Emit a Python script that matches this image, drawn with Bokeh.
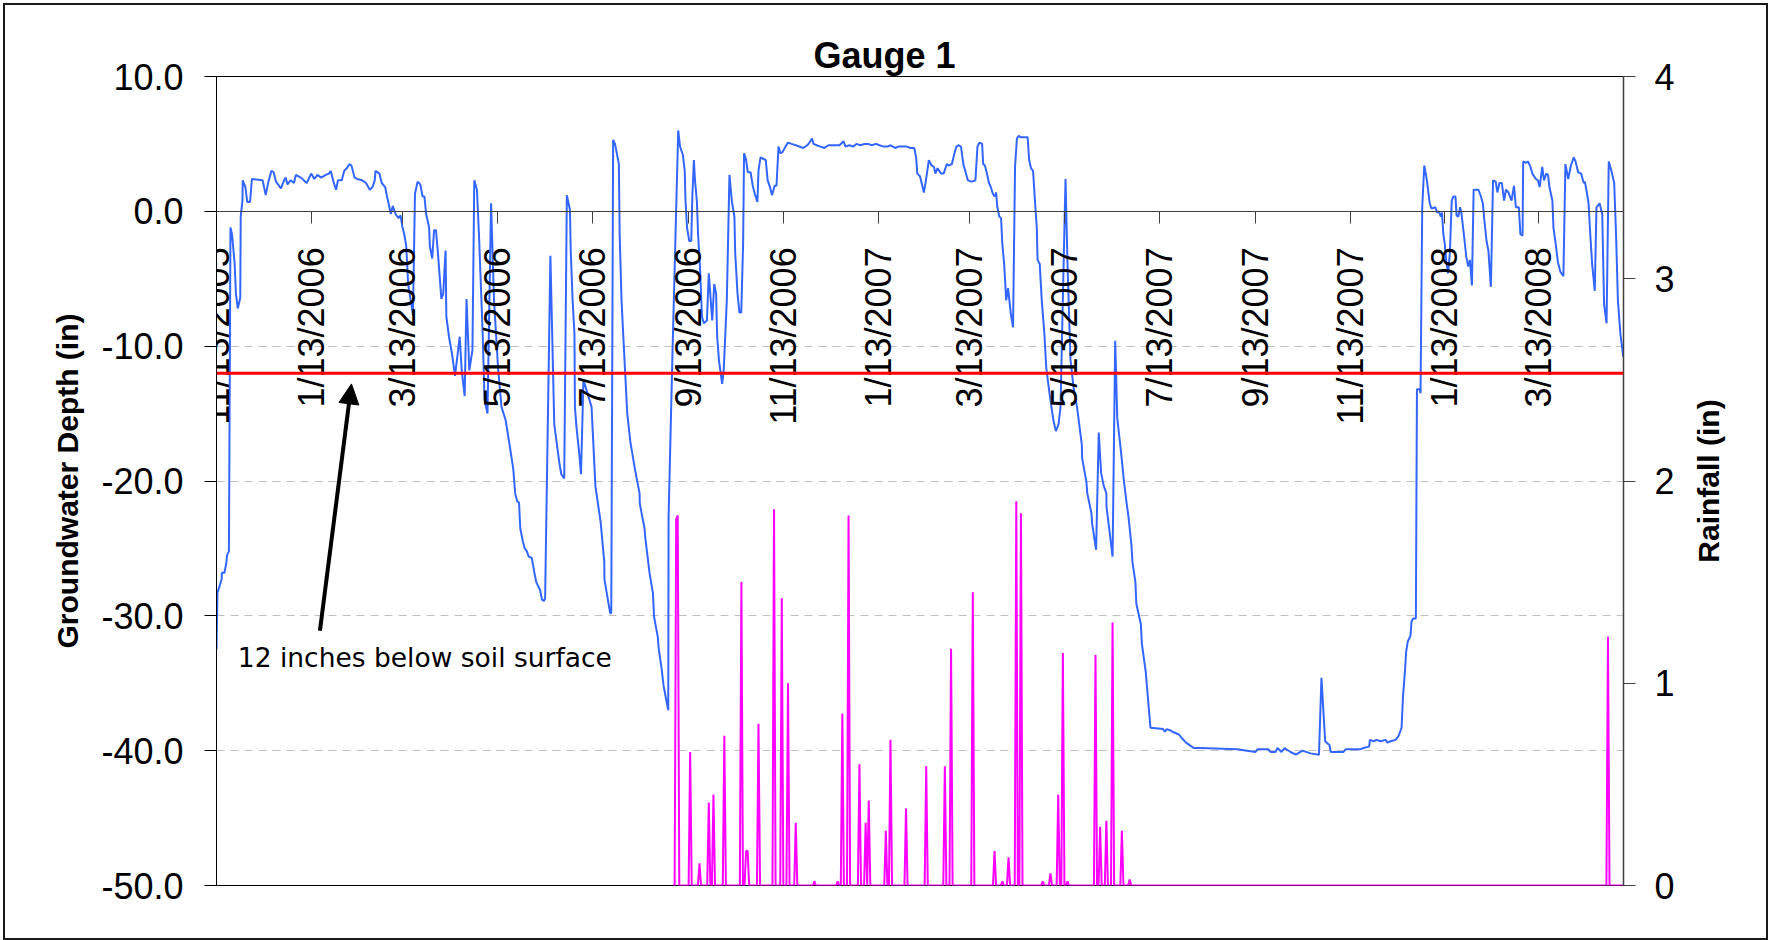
import math
from datetime import datetime, timedelta

from bokeh.plotting import figure
from bokeh.layouts import row
from bokeh.models import (Range1d, LinearAxis, FixedTicker, PrintfTickFormatter, Span,
                          ColumnDataSource, Label, Arrow, NormalHead)
from bokeh.embed import file_html
from bokeh.resources import INLINE

# ---------------- data ----------------
START = datetime(2005, 11, 13)          # first day on the time axis
END_DAY = 906                           # last day shown (days after START)

tick_labels = ["11/13/2005", "1/13/2006", "3/13/2006", "5/13/2006", "7/13/2006",
               "9/13/2006", "11/13/2006", "1/13/2007", "3/13/2007", "5/13/2007",
               "7/13/2007", "9/13/2007", "11/13/2007", "1/13/2008", "3/13/2008"]

# groundwater depth (in) : day after START, value
gw_day = [0, 0.6, 3.3, 3.5, 5.1, 6.3, 6.8, 8.0, 9.0, 10.0, 11.7, 12.5, 13.7, 15.3, 15.6, 16.7, 16.9,
          18.6, 19.8, 21.6, 22.8, 29.7, 31.7, 33.4, 35.4, 36.8, 38.3, 41.5, 43.5, 44.5, 45.7, 47.7,
          49.9, 51.1, 54.3, 58.1, 61.0, 63.0, 65.0, 67.4, 70.4, 72.4, 73.6, 75.3, 77.0, 78.2, 80.7,
          82.2, 83.9, 85.6, 86.9, 88.9, 90.6, 93.8, 96.3, 98.7, 100.5, 101.9, 102.4, 104.9, 106.4,
          108.6, 109.8, 112.3, 113.5, 115.3, 117.2, 118.5, 119.6, 120.9, 122.2, 123.4, 125.6, 126.5,
          127.8, 129.5, 131.2, 132.7, 133.9, 135.0, 136.9, 137.4, 138.9, 140.1, 141.3, 142.6, 144.8,
          146.0, 147.5, 148.0, 149.7, 151.7, 153.6, 156.6, 157.9, 159.8, 161.0, 162.8, 164.8, 166.0,
          167.7, 169.0, 170.2, 171.4, 172.6, 174.5, 176.8, 178.7, 181.3, 183.5, 186.2, 188.7, 191.1,
          192.3, 193.6, 194.8, 195.6, 197.3, 198.5, 199.8, 201.0, 203.0, 204.7, 205.9, 208.4, 209.6,
          210.8, 211.6, 215.0, 217.5, 220.7, 222.0, 223.9, 225.6, 227.6, 228.1, 229.3, 230.5, 230.8,
          231.8, 233.7, 234.7, 236.3, 241.5, 244.0, 247.3, 249.7, 249.8, 253.5, 254.2, 255.4, 256.6,
          259.1, 259.6, 260.8, 262.1, 264.5, 266.5, 269.4, 272.4, 272.6, 275.6, 276.1, 278.0, 278.8,
          281.0, 281.8, 284.2, 284.7, 286.6, 287.9, 290.9, 291.1, 293.6, 297.3, 298.5, 300.3, 301.5,
          302.0, 303.0, 304.4, 305.7, 306.4, 307.4, 308.1, 309.3, 310.1, 311.3, 312.6, 313.8, 315.8,
          317.0, 319.2, 320.5, 321.7, 322.4, 323.6, 325.6, 326.6, 328.6, 330.3, 331.8, 333.5, 334.0,
          335.5, 336.7, 337.9, 339.1, 339.7, 340.9, 342.1, 343.9, 345.3, 346.6, 348.3, 349.0, 350.3,
          352.0, 353.7, 354.9, 356.4, 357.7, 359.4, 360.6, 361.9, 363.1, 364.5, 366.4, 368.0, 370.3,
          373.0, 377.9, 380.4, 381.8, 383.5, 384.4, 386.5, 388.9, 391.4, 394.1, 396.3, 399.2, 401.2,
          403.7, 405.0, 407.6, 409.9, 412.1, 414.7, 417.3, 419.8, 421.8, 424.7, 426.9, 429.6, 432.1,
          434.0, 437.0, 439.2, 441.7, 444.4, 446.9, 449.3, 450.5, 451.3, 453.0, 455.5, 456.7, 458.7,
          460.4, 462.0, 462.9, 464.3, 466.6, 468.2, 470.3, 471.4, 473.5, 475.2, 476.4, 477.7, 479.4,
          480.9, 482.6, 483.8, 486.3, 488.7, 490.0, 491.2, 493.0, 493.7, 494.8, 496.1, 497.4, 498.6,
          499.9, 501.1, 502.0, 502.8, 504.1, 505.2, 506.0, 507.2, 508.5, 509.7, 511.5, 512.9, 514.2,
          515.4, 516.6, 517.7, 519.0, 522.3, 523.3, 524.5, 525.8, 527.0, 528.2, 528.7, 530.1, 531.4,
          533.1, 534.3, 535.6, 537.0, 538.9, 540.5, 542.2, 543.5, 544.7, 546.7, 548.0, 549.9, 551.8,
          554.1, 557.2, 557.4, 560.2, 560.7, 563.4, 563.9, 566.4, 568.1, 569.6, 571.4, 573.0, 573.1,
          575.0, 577.0, 578.7, 580.0, 582.4, 584.4, 586.1, 587.3, 589.1, 589.8, 591.7, 592.3, 595.2,
          595.9, 598.4, 599.7, 601.4, 609.5, 610.7, 611.9, 614.4, 615.5, 619.8, 621.8, 624.3, 628.0,
          629.2, 633.6, 657.2, 669.0, 670.3, 677.4, 678.7, 681.9, 683.2, 685.8, 687.7, 691.6, 695.0,
          699.3, 704.5, 709.9, 711.5, 713.9, 716.7, 717.5, 725.7, 727.0, 736.3, 738.6, 742.2, 742.7,
          745.0, 747.0, 749.5, 752.8, 754.0, 756.0, 759.2, 761.2, 763.1, 764.0, 765.4, 766.0, 767.1,
          768.8, 769.5, 770.6, 772.3, 773.0, 774.7, 775.3, 776.4, 777.7, 779.4, 781.2, 782.4, 784.8,
          786.0, 787.2, 788.4, 789.1, 790.0, 790.9, 791.8, 793.0, 794.2, 795.4, 796.5, 797.8, 798.5,
          799.6, 800.8, 801.7, 803.2, 804.8, 806.0, 807.1, 808.4, 809.5, 812.6, 814.2, 815.4, 816.6,
          817.8, 819.0, 820.6, 822.0, 823.7, 824.8, 826.1, 827.7, 829.1, 830.3, 831.9, 833.9, 835.5,
          836.7, 838.6, 839.6, 841.0, 841.4, 843.3, 844.5, 846.1, 847.3, 849.6, 850.9, 852.0, 853.7,
          854.8, 856.3, 857.4, 858.3, 860.2, 860.9, 862.1, 863.8, 865.4, 867.3, 868.6, 870.4, 872.1,
          874.0, 875.1, 876.8, 878.7, 880.4, 881.1, 882.1, 883.5, 884.6, 885.8, 887.5, 888.6, 890.6,
          892.3, 893.5, 895.1, 896.5, 898.2, 900.0, 901.2, 902.4, 904.0, 905.9]
gw_in = [-32.5, -28.3, -27.3, -26.8, -26.8, -26.1, -25.5, -25.2, -1.2, -1.7, -3.9, -6.1, -7.2, -6.4,
         -0.4, 0.8, 2.3, 1.8, 0.7, 0.7, 2.4, 2.3, 1.2, 2.2, 3.0, 2.9, 2.2, 1.7, 2.3, 2.5, 2.0, 2.3,
         2.1, 2.7, 2.5, 2.1, 2.8, 2.4, 2.7, 2.5, 2.7, 2.8, 3.0, 2.2, 1.6, 2.3, 2.3, 3.0, 3.2, 3.5,
         3.4, 2.5, 2.4, 2.3, 2.1, 1.6, 1.8, 2.3, 3.0, 2.8, 2.1, 1.8, 1.1, -0.2, 0.4, -0.2, -0.5,
         -0.3, -1.1, -1.7, -2.6, -5.4, -7.0, -7.7, 1.3, 2.2, 2.0, 1.1, 1.1, -0.2, -1.2, -2.6, -3.5,
         -1.4, -1.4, -3.1, -6.5, -6.1, -2.9, -7.8, -9.3, -10.6, -12.2, -9.3, -11.8, -13.7, -6.5,
         -11.8, -10.3, 2.3, 1.6, -1.7, -5.4, -9.1, -14.0, -15.0, 0.6, -6.6, -11.6, -14.5, -15.5,
         -17.3, -19.1, -20.9, -21.5, -21.6, -23.5, -24.5, -25.0, -25.2, -25.6, -25.7, -26.8, -27.5,
         -28.1, -28.8, -28.9, -28.7, -3.3, -15.8, -18.6, -19.5, -19.8, 1.2, 0.1, -2.9, -6.6, -9.1,
         -14.5, -16.0, -18.1, -19.5, -12.5, -14.5, -20.4, -23.0, -26.0, -27.3, -29.8, -29.8, 5.3,
         5.0, 3.5, -1.7, -6.6, -9.6, -15.0, -17.1, -19.1, -20.9, -21.7, -23.5, -24.2, -26.0, -26.8,
         -28.3, -30.1, -31.6, -32.4, -33.9, -35.2, -37.0, -22.7, -10.6, 6.0, 4.8, 4.2, 3.0, 0.8,
         -1.2, -2.2, -2.2, 1.1, 3.8, 2.3, 0.8, -1.7, -4.1, -7.8, -8.3, -8.1, -4.6, -8.1, -5.4, -6.1,
         -9.3, -11.1, -12.8, -11.8, -6.6, 2.7, 0.8, -0.4, -3.1, -6.1, -7.5, -7.5, -2.4, 4.3, 3.9,
         2.9, 2.9, 1.9, 1.3, 0.7, 3.0, 4.0, 3.9, 3.8, 2.3, 1.8, 1.2, 1.9, 1.9, 4.8, 4.3, 4.4, 4.8,
         5.1, 5.0, 4.9, 4.7, 4.9, 5.1, 5.4, 5.0, 4.9, 4.8, 4.7, 4.9, 4.9, 4.9, 4.9, 5.2, 4.8, 4.9,
         4.8, 5.0, 4.9, 5.0, 5.0, 4.9, 5.0, 4.9, 4.8, 4.8, 4.9, 4.7, 4.8, 4.8, 4.8, 4.7, 4.7, 4.0,
         2.8, 2.6, 1.4, 2.2, 3.8, 3.4, 3.3, 2.8, 3.2, 2.8, 2.8, 3.5, 3.4, 3.5, 4.3, 4.8, 4.9, 4.8,
         3.5, 2.8, 2.3, 2.2, 2.3, 4.8, 5.1, 5.0, 3.5, 3.4, 2.8, 2.1, 1.8, 1.3, 1.1, 1.4, 0.3, -0.4,
         -0.5, -2.4, -3.9, -6.6, -5.7, -7.6, -8.6, 3.3, 5.4, 5.6, 5.5, 5.5, 5.5, 3.8, 3.2, 3.0, 0.8,
         -1.2, -3.6, -3.9, -6.6, -9.1, -11.6, -12.8, -14.0, -15.5, -16.3, -15.8, -14.5, -8.0, 2.4,
         -4.0, -11.0, -13.0, -14.5, -17.3, -18.3, -20.1, -20.9, -22.4, -23.2, -25.1, -16.4, -19.4,
         -20.4, -20.9, -21.9, -23.7, -25.6, -9.6, -15.3, -17.8, -20.1, -21.7, -22.7, -24.7, -26.0,
         -27.5, -29.1, -30.6, -32.1, -34.2, -36.0, -38.3, -38.4, -38.6, -38.4, -38.5, -38.6, -38.8,
         -39.1, -39.4, -39.7, -39.8, -39.8, -39.9, -40.1, -39.9, -39.9, -40.1, -40.1, -39.8, -40.1,
         -39.8, -40.1, -40.3, -40.0, -40.2, -40.3, -34.6, -39.3, -39.6, -40.1, -40.1, -39.9, -39.9,
         -39.8, -39.7, -39.2, -39.3, -39.2, -39.3, -39.2, -39.4, -39.3, -39.2, -38.9, -38.3, -36.0,
         -33.9, -32.7, -31.9, -31.5, -30.4, -30.2, -30.2, -13.2, -13.2, -13.5, 0.3, 3.4, 2.3, 0.6,
         0.2, 0.3, -0.1, 0.0, -0.4, -0.1, -1.7, -2.4, -3.6, -4.6, -3.1, 0.8, 1.1, 1.1, -0.3, -0.4,
         0.3, -0.2, -1.7, -3.4, -4.1, -3.6, -5.5, 1.6, 1.6, 1.1, 0.6, -0.9, -2.2, -2.9, -5.6, 2.3,
         2.2, 1.4, 2.1, 2.1, 0.8, 1.6, 1.4, 0.8, 1.9, 0.3, 0.3, -1.7, -1.8, 3.7, 3.6, 3.7, 3.3, 2.8,
         2.4, 2.3, 1.8, 3.3, 2.3, 2.8, 2.7, 1.8, 0.8, -1.2, -2.2, -3.8, -4.5, -4.8, 3.5, 2.4, 3.4,
         4.0, 3.7, 2.9, 2.8, 2.1, 2.2, 1.6, 0.6, -1.7, -3.9, -5.9, 0.3, 0.6, -0.2, -6.9, -8.3, 3.7,
         3.0, 2.1, -1.7, -6.6, -9.1, -10.8]

# daily rainfall (in): days with rain; every other day of the record is 0
RAIN_FIRST_DAY = 294
RAIN_LAST_DAY = 906
rain_day = [296, 297, 305, 311, 317, 320, 327, 338, 341, 342, 349, 359, 364, 368, 373, 385, 400,
            403, 407, 414, 418, 420, 431, 434, 444, 457, 469, 473, 487, 501, 506, 510, 515, 518,
            532, 537, 542, 545, 548, 566, 569, 573, 577, 583, 588, 896]
rain_in = [1.81, 1.83, 0.66, 0.11, 0.41, 0.45, 0.74, 1.50, 0.17, 0.17, 0.80, 1.86, 1.42, 1.00,
           0.31, 0.02, 0.02, 0.85, 1.83, 0.60, 0.31, 0.42, 0.27, 0.72, 0.38, 0.59, 0.59, 1.17,
           1.45, 0.17, 0.02, 0.14, 1.90, 1.84, 0.02, 0.06, 0.45, 1.15, 0.02, 1.14, 0.29, 0.32,
           1.30, 0.27, 0.03, 1.23]

THRESHOLD_IN = -12.0   # 12 inches below soil surface

# ---------------- build ----------------
def day_to_dt(d):
    return START + timedelta(days=d)

def ms(dt):
    return (dt - datetime(1970, 1, 1)).total_seconds() * 1000.0

gw_src = ColumnDataSource(dict(x=[day_to_dt(d) for d in gw_day], y=gw_in))
rain_lookup = dict(zip(rain_day, rain_in))
rdays = list(range(RAIN_FIRST_DAY, RAIN_LAST_DAY + 1))
rain_src = ColumnDataSource(dict(x=[day_to_dt(d) for d in rdays],
                                 y=[rain_lookup.get(d, 0.0) for d in rdays]))
tick_ms = [int(ms(datetime.strptime(s, "%m/%d/%Y"))) for s in tick_labels]

FONT = "Liberation Sans"
W_MAIN, W_SIDE, H = 1689, 81, 940

p = figure(width=W_MAIN, height=H, output_backend="svg", toolbar_location=None,
           x_axis_type="datetime", x_axis_location=None,
           x_range=Range1d(START, day_to_dt(END_DAY)), y_range=Range1d(-50, 10),
           min_border_left=216, min_border_right=W_MAIN - 1623, min_border_top=76,
           min_border_bottom=55, background_fill_color="white", border_fill_color="white")
p.outline_line_color = "black"
p.outline_line_width = 1

p.title.text = "Gauge 1"
p.title.align = "left"
p.title.offset = 597
p.title.text_font = FONT
p.title.text_font_size = "36px"
p.title.text_font_style = "bold"
p.title.text_color = "black"
p.title.standoff = 2

for g in p.grid:
    if g.dimension == 0:
        g.visible = False
p.ygrid.ticker = FixedTicker(ticks=[-40, -30, -20, -10])
p.ygrid.grid_line_color = "#c0c0c0"
p.ygrid.grid_line_dash = "8 6"
p.ygrid.grid_line_width = 1

ya = p.yaxis[0]
ya.ticker = FixedTicker(ticks=[-50, -40, -30, -20, -10, 0, 10])
ya.formatter = PrintfTickFormatter(format="%.1f")
ya.major_label_text_font = FONT
ya.major_label_text_font_size = "36px"
ya.major_label_text_color = "black"
ya.major_tick_out = 12
ya.major_tick_in = 0
ya.minor_tick_out = 0
ya.minor_tick_in = 0
ya.major_label_standoff = 21
ya.axis_line_color = "black"
ya.major_tick_line_color = "black"
ya.axis_label = "Groundwater Depth (in)"
ya.axis_label_text_font = FONT
ya.axis_label_text_font_size = "30px"
ya.axis_label_text_font_style = "bold"
ya.axis_label_text_color = "black"
ya.axis_label_standoff = 14

p.extra_y_ranges = {"rain": Range1d(0, 4)}
ra = LinearAxis(y_range_name="rain", ticker=FixedTicker(ticks=[0, 1, 2, 3, 4]))
ra.major_label_text_font = FONT
ra.major_label_text_font_size = "36px"
ra.major_label_text_color = "black"
ra.major_tick_out = 12
ra.major_tick_in = 0
ra.minor_tick_out = 0
ra.minor_tick_in = 0
ra.major_label_standoff = 19
ra.axis_line_color = "#404040"
ra.axis_line_width = 1.5
ra.major_tick_line_color = "#404040"
p.add_layout(ra, "right")

# time axis drawn across the plot at depth 0
xa = LinearAxis(fixed_location=0, ticker=FixedTicker(ticks=tick_ms),
                major_label_overrides=dict(zip(tick_ms, tick_labels)))
xa.major_label_orientation = math.pi / 2
xa.major_label_text_font = FONT
xa.major_label_text_font_size = "36px"
xa.major_label_text_color = "black"
xa.major_tick_out = 12
xa.major_tick_in = 0
xa.minor_tick_out = 0
xa.minor_tick_in = 0
xa.major_label_standoff = 24
xa.axis_line_color = "#404040"
xa.major_tick_line_color = "#404040"
p.add_layout(xa, "below")

p.line(x="x", y="y", source=gw_src, line_color="#3366ff", line_width=2)
p.line(x="x", y="y", source=rain_src, y_range_name="rain", line_color="#ff00ff", line_width=2)

p.add_layout(Span(location=THRESHOLD_IN, dimension="width", line_color="#ff0000",
                  line_width=3))

p.add_layout(Arrow(x_start=ms(day_to_dt(66.6)), y_start=-31.1,
                   x_end=ms(day_to_dt(86.9)), y_end=-12.8,
                   line_color="black", line_width=4,
                   end=NormalHead(size=20, fill_color="black", line_color="black")))
p.add_layout(Label(x=ms(day_to_dt(13.7)), y=-33.06, text="12 inches below soil surface",
                   text_font="DejaVu Sans", text_font_size="26.5px", text_color="black",
                   text_align="left", text_baseline="alphabetic"))

# right-hand title strip: "Rainfall (in)" reading bottom-to-top
side = figure(width=W_SIDE, height=H, output_backend="svg", toolbar_location=None,
              x_axis_location=None, y_axis_location=None, title_location="left",
              min_border_left=0, min_border_right=0, min_border_top=76, min_border_bottom=55,
              background_fill_color="white", border_fill_color="white")
side.outline_line_color = None
side.grid.visible = False
side.title.text = "Rainfall (in)"
side.title.align = "center"
side.title.text_font = FONT
side.title.text_font_size = "30px"
side.title.text_font_style = "bold"
side.title.text_color = "black"
side.title.standoff = 0

chart = row(p, side, spacing=0)
# outer chart-area border
chart.stylesheets = [":host::after { content: ''; position: absolute; left: 3px; top: 3px; "
                     "width: 1765px; height: 937px; box-sizing: border-box; "
                     "border: 2px solid #1a1a1a; pointer-events: none; z-index: 50; }"]

open("out.html", "w").write(file_html(chart, INLINE, title="Gauge 1"))
